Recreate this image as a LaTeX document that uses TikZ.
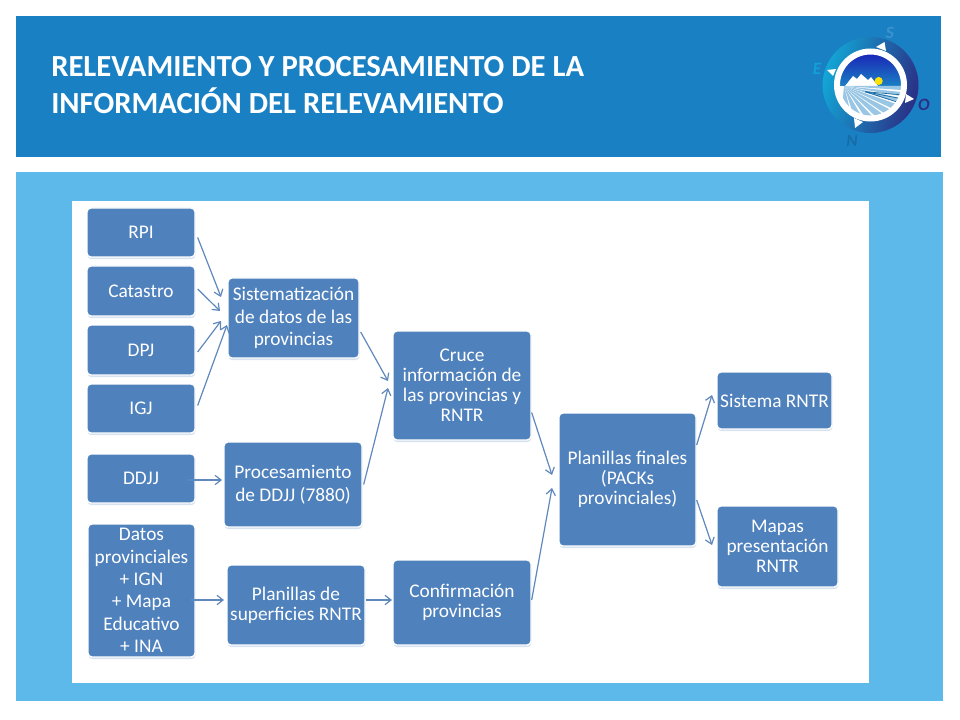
\documentclass[tikz,border=0pt]{standalone}
\usepackage{fontspec}
\setmainfont{Carlito}
\usetikzlibrary{shadows,arrows.meta}
\definecolor{headblue}{HTML}{1A80C4}
\definecolor{panelblue}{HTML}{5DB9E9}
\definecolor{boxblue}{HTML}{4F81BD}
\definecolor{linkblue}{HTML}{5F88BC}
\definecolor{navyblue}{HTML}{2B2F85}
\tikzset{
	bluebox/.style={rectangle,rounded corners=3pt,fill=boxblue,draw=white,line width=1pt,text=white,align=center,inner sep=0pt,
		font=\fontsize{14.5}{16.8}\selectfont,drop shadow={shadow xshift=0.3pt,shadow yshift=-1.6pt,opacity=0.22,fill=boxblue}},
	tightbox/.style={bluebox,font=\fontsize{14.5}{15}\selectfont},
	boxsize/.style 2 args={minimum width=#1*0.75pt,minimum height=#2*0.75pt},
	link/.style={-{Straight Barb[length=4.5pt,width=7pt]},linkblue,line width=0.9pt},
	logoletter/.style={font=\fontsize{13}{13}\selectfont\bfseries\itshape}
}
\begin{document}
\begin{tikzpicture}[x=0.75pt,y=-0.75pt]
	\path[use as bounding box,fill=white] (0,0) rectangle (960,720);
	\fill[headblue] (16,16) rectangle (941,157);
	\fill[panelblue] (16,172) rectangle (943,701);
	\fill[white] (72,201) rectangle (869,683);
	\node[anchor=west,text=white,align=left,inner sep=0pt,font=\fontsize{23}{28.2}\selectfont\bfseries] (title) at (51,85)
		{RELEVAMIENTO Y PROCESAMIENTO DE LA\\INFORMACIÓN DEL RELEVAMIENTO};

	% logo
	\shade[left color=headblue!70!cyan,right color=navyblue,shading angle=75] (870.5,85) circle (48);
	\begin{scope}
		\clip (870.5,85) circle (31);
		\fill[top color=navyblue!60!blue,bottom color=headblue] (838,50) rectangle (903,86);
		\fill[white] (845,86) -- (853,76) -- (857,79) -- (861,74) -- (868,80) -- (871,77) -- (878,86) -- cycle;
		\fill[yellow!85!orange] (878.7,81) circle (4);
		\fill[white] (838,86) rectangle (903,120);
		\begin{scope}[shift={(844,86)}]
			\foreach \a/\b in {0/4,6/10,12/17,19/25,27/34,36/44,47/56,60/72,76/95}
				\fill[headblue!45!white] (0,0) -- (\a:70) -- (\b:70) -- cycle;
			\foreach \a in {5,11,18}
				\draw[headblue!80!black,line width=0.5pt] (15:22) -- ++(\a:50);
		\end{scope}
	\end{scope}
	\draw[white,line width=4.5pt] (870.5,85) circle (33.5);
	\fill[white] (884.5,42) -- (886,51) -- (876,47) -- cycle;
	\fill[white] (827,70) -- (836,69) -- (833,76) -- cycle;
	\fill[white] (914,99) -- (905,103) -- (906,94) -- cycle;
	\fill[white] (855,128) -- (854,118) -- (863,122) -- cycle;
	\node[logoletter,text=headblue!85!white] (letS) at (890,33) {S};
	\node[logoletter,text=headblue!75!cyan] (letE) at (817,69) {E};
	\node[logoletter,text=navyblue] (letO) at (924,105) {O};
	\node[logoletter,text=headblue!85!black] (letN) at (852,141) {N};

	% boxes
	\foreach \name/\txt/\ypos/\hgt in {rpi/RPI/232.5/49,cat/Catastro/291/50,dpj/DPJ/350/50,igj/IGJ/408.5/49,ddjj/DDJJ/478.5/49}
		\node[bluebox,boxsize={108}{\hgt}] (\name) at (141,\ypos) {\txt};
	\node[bluebox,boxsize={107}{133}] (datos) at (141.5,590.5) {Datos\\provinciales\\+ IGN\\+ Mapa\\Educativo\\+ INA};
	\node[bluebox,boxsize={131}{80}] (sist) at (293.5,318) {Sistematización\\de datos de las\\provincias};
	\node[bluebox,boxsize={138}{85}] (proc) at (293,484.5) {Procesamiento\\de DDJJ (7880)};
	\node[tightbox,boxsize={138}{80}] (plansup) at (296,605) {Planillas de\\superficies RNTR};
	\node[tightbox,boxsize={138}{109}] (cruce) at (462,385.5) {Cruce\\información de\\las provincias y\\RNTR};
	\node[tightbox,boxsize={138}{85}] (conf) at (462,602.5) {Confirmación\\provincias};
	\node[tightbox,boxsize={137}{133}] (final) at (627.5,479.5) {Planillas finales\\(PACKs\\provinciales)};
	\node[bluebox,boxsize={115}{57}] (sistema) at (774.5,400.5) {Sistema RNTR};
	\node[tightbox,boxsize={121}{81}] (mapas) at (777.5,546.5) {Mapas\\presentación\\RNTR};

	% free ends of the arrows
	\coordinate (toSistA) at (221,297);
	\coordinate (toSistB) at (220,311);
	\coordinate (toSistC) at (221,321);
	\coordinate (toSistD) at (227,325);
	\coordinate (toCruceA) at (388,381);
	\coordinate (toCruceB) at (388,388);
	\coordinate (toProc) at (222,480);
	\coordinate (toPlan) at (224,600);
	\coordinate (toConf) at (392,600);
	\coordinate (toFinalA) at (552,475);
	\coordinate (toFinalB) at (552,488);
	\coordinate (toSistema) at (712,395);
	\coordinate (toMapas) at (712,545);

	\draw[link] ([shift={(2,5)}]rpi.east) -- (toSistA);
	\draw[link] ([shift={(2,-2)}]cat.east) -- (toSistB);
	\draw[link] ([shift={(2,2)}]dpj.east) -- (toSistC);
	\draw[link] ([shift={(2,-3)}]igj.east) -- (toSistD);
	\draw[link] ([shift={(1,14)}]sist.east) -- (toCruceA);
	\draw[link] ([shift={(1,0)}]proc.east) -- (toCruceB);
	\draw[link] ([shift={(-8,1.5)}]ddjj.east) -- (toProc);
	\draw[link] ([shift={(-5,9.5)}]datos.east) -- (toPlan);
	\draw[link] ([shift={(0,-5)}]plansup.east) -- (toConf);
	\draw[link] ([shift={(0,27)}]cruce.east) -- (toFinalA);
	\draw[link] ([shift={(0,-2.5)}]conf.east) -- (toFinalB);
	\draw[link] ([shift={(0,-34.5)}]final.east) -- (toSistema);
	\draw[link] ([shift={(0,20.5)}]final.east) -- (toMapas);
\end{tikzpicture}
\end{document}
